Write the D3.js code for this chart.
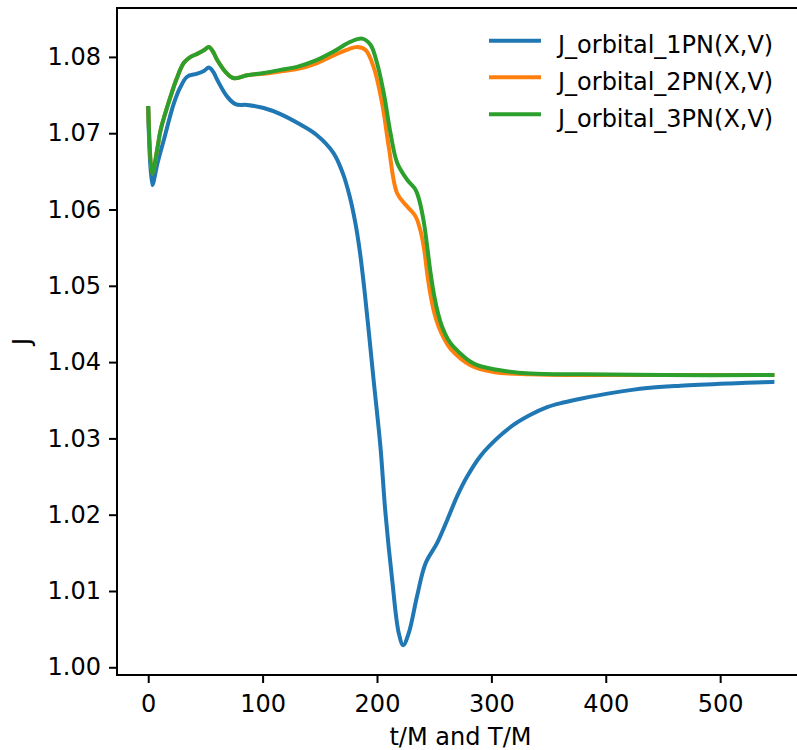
<!DOCTYPE html>
<html>
<head>
<meta charset="utf-8">
<script src="https://cdn.jsdelivr.net/npm/d3@7"></script>
<style>
  html, body { margin: 0; padding: 0; background: #fff; overflow: hidden; }
  svg { display: block; }
  text { font-family: "DejaVu Sans", sans-serif; fill: #000; }
</style>
</head>
<body>
<svg id="chart" width="797" height="750"></svg>
<script>
// Orbital angular momentum J over time, three post-Newtonian orders
const seriesNames = ["J_orbital_1PN(X,V)", "J_orbital_2PN(X,V)", "J_orbital_3PN(X,V)"];
const seriesColors = ["#1f77b4", "#ff7f0e", "#2ca02c"];

const t1PN = [0, 3.5, 8, 13.6, 22.4, 28, 34, 42.8, 49, 53, 57, 60.3, 69, 76.3, 86.5, 101, 115.6, 131, 147, 162, 170, 176, 181, 185, 189, 193, 197, 203, 207.4, 213.3, 219, 222.9, 227.8, 235, 242.4, 252.6, 261.4, 270, 278.8, 290.5, 305, 319.6, 334.2, 348.8, 363, 378, 407, 436.5, 465.3, 509, 545.7];
const J1PN = [1.0733, 1.0632, 1.0660, 1.0691, 1.0739, 1.0760, 1.0774, 1.0778, 1.0782, 1.0786, 1.0780, 1.0770, 1.0748, 1.0738, 1.0737, 1.0733, 1.0725, 1.0713, 1.0698, 1.0674, 1.0648, 1.0618, 1.0583, 1.0545, 1.0495, 1.0437, 1.0377, 1.0289, 1.0202, 1.0114, 1.0045, 1.0029, 1.0045, 1.0093, 1.0136, 1.0163, 1.0193, 1.0224, 1.0250, 1.0277, 1.0300, 1.0318, 1.0331, 1.0341, 1.0347, 1.0352, 1.0360, 1.0366, 1.0369, 1.0372, 1.0374];

const t2PN = [0, 3.5, 8, 10.8, 19.5, 25, 31, 37, 42.8, 49, 53, 57, 60.3, 69, 74.8, 86.5, 101, 115.6, 130, 147.7, 162, 175, 182.7, 190, 197, 204.5, 210.3, 217.7, 226.4, 233.7, 237.5, 241, 244, 246.8, 250, 254, 259, 264, 281.7, 302, 334, 380, 450, 545.7];
const J2PN = [1.0733, 1.0647, 1.0680, 1.0704, 1.0748, 1.0772, 1.0792, 1.0800, 1.0804, 1.0809, 1.0813, 1.0806, 1.0796, 1.0778, 1.0772, 1.0776, 1.0778, 1.0781, 1.0784, 1.0792, 1.0802, 1.0810, 1.0813, 1.0809, 1.0787, 1.0739, 1.0682, 1.0621, 1.0604, 1.0591, 1.0575, 1.0550, 1.0515, 1.0488, 1.0465, 1.0446, 1.0430, 1.0418, 1.0396, 1.0387, 1.0384, 1.0383, 1.0383, 1.0383];

const t3PN = [0, 3.5, 8, 10.8, 19.5, 25, 31, 37, 42.8, 49, 53, 57, 60.3, 69, 74.8, 86.5, 101, 115.6, 130, 147.7, 162, 177, 187, 194.3, 200, 206, 211.8, 217.7, 226.4, 233.7, 237, 241, 244, 247, 250, 253.5, 257, 262, 267, 284.6, 305, 334, 380, 450, 545.7];
const J3PN = [1.0733, 1.0647, 1.0680, 1.0704, 1.0748, 1.0772, 1.0792, 1.0800, 1.0804, 1.0809, 1.0813, 1.0806, 1.0796, 1.0778, 1.0772, 1.0776, 1.0779, 1.0783, 1.0787, 1.0796, 1.0807, 1.0820, 1.0824, 1.0816, 1.0792, 1.0752, 1.0700, 1.0661, 1.0639, 1.0626, 1.0612, 1.0583, 1.0550, 1.0515, 1.0487, 1.0463, 1.0446, 1.0430, 1.0420, 1.0398, 1.0390, 1.0385, 1.0384, 1.0383, 1.0383];

const xTicks = [0, 100, 200, 300, 400, 500];
const yTicks = [1.00, 1.01, 1.02, 1.03, 1.04, 1.05, 1.06, 1.07, 1.08];

const series = [
  { name: seriesNames[0], color: seriesColors[0], t: t1PN, J: J1PN },
  { name: seriesNames[1], color: seriesColors[1], t: t2PN, J: J2PN },
  { name: seriesNames[2], color: seriesColors[2], t: t3PN, J: J3PN }
];

const svg = d3.select("#chart");
const plotLeft = 117, plotTop = 8, plotRight = 804, plotBottom = 675;

const x = d3.scaleLinear().domain([-27.3, 573.3]).range([plotLeft, plotRight]);
const y = d3.scaleLinear().domain([0.99899, 1.08641]).range([plotBottom, plotTop]);

// curves
const line = d3.line()
  .x(d => x(d[0]))
  .y(d => y(d[1]))
  .curve(d3.curveCatmullRom.alpha(0.5));

const plot = svg.append("g");
series.forEach(s => {
  const pts = s.t.map((tv, i) => [tv, s.J[i]]);
  plot.append("path")
    .datum(pts)
    .attr("fill", "none")
    .attr("stroke", s.color)
    .attr("stroke-width", 4)
    .attr("stroke-linejoin", "round")
    .attr("stroke-linecap", "square")
    .attr("d", line);
});

// axes
const fontSize = 24;
const xAxis = svg.append("g")
  .attr("transform", `translate(0,${plotBottom})`)
  .call(d3.axisBottom(x).tickValues(xTicks).tickFormat(d3.format("d")).tickSize(8).tickPadding(12).tickSizeOuter(0));
const yAxis = svg.append("g")
  .attr("transform", `translate(${plotLeft},0)`)
  .call(d3.axisLeft(y).tickValues(yTicks).tickFormat(d3.format(".2f")).tickSize(8).tickPadding(8).tickSizeOuter(0));

[xAxis, yAxis].forEach(g => {
  g.select(".domain").remove();
  g.selectAll(".tick line").attr("stroke", "#000").attr("stroke-width", 2);
  g.selectAll(".tick text")
    .attr("font-family", "DejaVu Sans, sans-serif")
    .attr("font-size", fontSize)
    .attr("fill", "#000");
});

// spines (the right spine lies beyond the canvas edge)
const spines = [
  [plotLeft, plotTop, plotLeft, plotBottom],
  [plotLeft - 1, plotBottom, plotRight, plotBottom],
  [plotLeft - 1, plotTop, plotRight, plotTop]
];
svg.append("g").selectAll("line").data(spines).join("line")
  .attr("x1", d => d[0]).attr("y1", d => d[1])
  .attr("x2", d => d[2]).attr("y2", d => d[3])
  .attr("stroke", "#000").attr("stroke-width", 2);

// axis titles
svg.append("text")
  .attr("x", (plotLeft + plotRight) / 2).attr("y", 745)
  .attr("text-anchor", "middle")
  .attr("font-size", fontSize)
  .text("t/M and T/M");

svg.append("text")
  .attr("transform", `translate(29.5,${(plotTop + plotBottom) / 2}) rotate(-90)`)
  .attr("text-anchor", "middle")
  .attr("font-size", fontSize)
  .text("J");

// legend
const legend = svg.append("g");
const legY = [40.7, 77.3, 114.3];
series.forEach((s, i) => {
  legend.append("line")
    .attr("x1", 489).attr("x2", 541)
    .attr("y1", legY[i]).attr("y2", legY[i])
    .attr("stroke", s.color).attr("stroke-width", 4);
  legend.append("text")
    .attr("x", 558).attr("y", legY[i] + 12.6)
    .attr("font-size", fontSize)
    .text(s.name);
});
</script>
</body>
</html>
